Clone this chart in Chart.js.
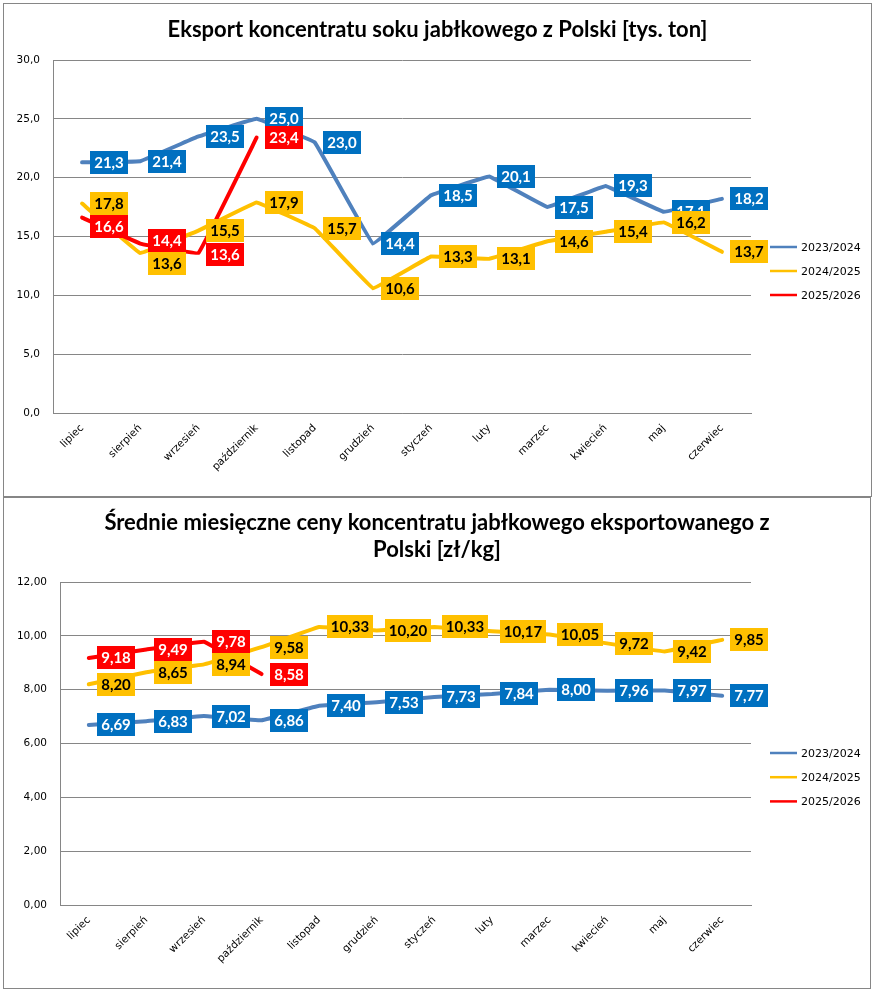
<!DOCTYPE html>
<html><head><meta charset="utf-8">
<script src="https://cdn.jsdelivr.net/npm/chart.js@4"></script>
<style>
html,body{margin:0;padding:0;background:#fff;width:875px;height:992px;overflow:hidden}
.box{position:absolute;border:1px solid #868686;box-sizing:border-box;background:#fff}
#b1{left:3px;top:3px;width:869px;height:494px}
#b2{left:3px;top:497px;width:868px;height:492px}
canvas{display:block}
</style></head>
<body>
<div class="box" id="b1"><canvas id="c1" width="867" height="492"></canvas></div>
<div class="box" id="b2"><canvas id="c2" width="866" height="490"></canvas></div>
<script>
// ---- data ----
const categories = ['lipiec','sierpień','wrzesień','październik','listopad','grudzień','styczeń','luty','marzec','kwiecień','maj','czerwiec'];
const seasons = ['2023/2024','2024/2025','2025/2026'];

const exportTitle = 'Eksport koncentratu soku jabłkowego z Polski [tys. ton]';
const export2023 = [21.3,21.4,23.5,25.0,23.0,14.4,18.5,20.1,17.5,19.3,17.1,18.2];
const export2024 = [17.8,13.6,15.5,17.9,15.7,10.6,13.3,13.1,14.6,15.4,16.2,13.7];
const export2025 = [16.6,14.4,13.6,23.4,null,null,null,null,null,null,null,null];
const exportTicks = [0,5,10,15,20,25,30];

const priceTitle = ['Średnie miesięczne ceny koncentratu jabłkowego eksportowanego z','Polski [zł/kg]'];
const price2023 = [6.69,6.83,7.02,6.86,7.40,7.53,7.73,7.84,8.00,7.96,7.97,7.77];
const price2024 = [8.20,8.65,8.94,9.58,10.33,10.20,10.33,10.17,10.05,9.72,9.42,9.85];
const price2025 = [9.18,9.49,9.78,8.58,null,null,null,null,null,null,null,null];
const priceTicks = [0,2,4,6,8,10,12];

// ---- styles ----
const lineColors = ['#4F81BD','#FFC000','#FF0000'];
const labelBgs = ['#0070C0','#FFC000','#FF0000'];
const labelFg = ['#FFFFFF','#000000','#FFFFFF'];
const tickFont = {family:'DejaVu Sans', size:10.5};

const boxLabels = {
  id:'boxLabels',
  afterDatasetsDraw(chart, args, o){
    const ctx = chart.ctx;
    ctx.save();
    ctx.font = 'bold 15px Lato';
    chart.data.datasets.forEach((ds,i)=>{
      const meta = chart.getDatasetMeta(i);
      meta.data.forEach((pt,j)=>{
        const v = ds.data[j];
        if (v === null || v === undefined) return;
        const txt = v.toFixed(o.decimals).replace('.',',');
        const tw = ctx.measureText(txt).width;
        const w = Math.round(tw + 2*o.padX), h = o.boxH;
        const dy = (o.nudges && o.nudges[i+':'+j]) || 0;
        const bx = Math.round(pt.x + o.offsetX), by = Math.round(pt.y + dy - h/2);
        ctx.fillStyle = labelBgs[i];
        ctx.fillRect(bx, by, w, h);
        ctx.fillStyle = labelFg[i];
        ctx.textAlign = 'center';
        ctx.textBaseline = 'middle';
        ctx.fillText(txt, bx + w/2, by + h/2 + 1);
      });
    });
    ctx.restore();
  }
};

const sideLegend = {
  id:'sideLegend',
  afterDraw(chart, args, o){
    const {ctx, chartArea} = chart;
    ctx.save();
    ctx.font = '11px "DejaVu Sans"';
    ctx.textAlign = 'left';
    ctx.textBaseline = 'middle';
    chart.data.datasets.forEach((ds,i)=>{
      const y = o.top + i*o.spacing;
      const x0 = chartArea.right + 19;
      ctx.strokeStyle = ds.borderColor;
      ctx.lineWidth = 2.5;
      ctx.beginPath(); ctx.moveTo(x0, y); ctx.lineTo(x0+27, y); ctx.stroke();
      ctx.fillStyle = '#000';
      ctx.fillText(ds.label, x0+31, y+1);
    });
    ctx.restore();
  }
};

function makeChart(id, title, titleOpts, series, ticks, decimals, dims, labelOpts, legendOpts){
  const datasets = series.map((d,i)=>({
    label: seasons[i],
    data: d,
    borderColor: lineColors[i],
    backgroundColor: lineColors[i],
    borderWidth: 4,
    pointRadius: 0,
    pointHoverRadius: 0,
    tension: 0.04,
    borderCapStyle: 'round',
    borderJoinStyle: 'round',
    fill: false,
    order: 3 - i
  }));
  return new Chart(document.getElementById(id), {
    type:'line',
    data:{labels: categories, datasets},
    options:{
      responsive:false,
      animation:false,
      events:[],
      layout:{padding:0},
      scales:{
        x:{
          offset:true,
          grid:{display:false, drawTicks:false},
          border:{display:true, color:'#868686', width:1},
          ticks:{autoSkip:false, minRotation:45, maxRotation:45, color:'#000', font:tickFont, padding:9},
          afterFit(s){ s.height = dims.xh; }
        },
        y:{
          min: ticks[0], max: ticks[ticks.length-1],
          afterBuildTicks(s){ s.ticks = ticks.map(v=>({value:v})); },
          grid:{color:'#868686', lineWidth:1, drawTicks:false},
          border:{display:true, color:'#868686', width:1},
          ticks:{color:'#000', font:tickFont, padding:13,
                 callback:(v)=>Number(v).toFixed(decimals).replace('.',',')},
          afterFit(s){ s.width = dims.yw; }
        },
        legendSpace:{
          type:'linear', position:'right', display:true,
          grid:{display:false, drawTicks:false},
          border:{display:false},
          ticks:{display:false},
          afterFit(s){ s.width = dims.right; }
        }
      },
      plugins:{
        legend:{display:false},
        tooltip:{enabled:false},
        title:Object.assign({display:true, text:title, color:'#000'}, titleOpts),
        boxLabels: labelOpts,
        sideLegend: legendOpts
      }
    },
    plugins:[boxLabels, sideLegend]
  });
}

makeChart('c1', exportTitle,
  {padding:{top:12.8, bottom:16.8}, font:{family:'Lato', weight:'bold', size:22, lineHeight:1.2}},
  [export2023, export2024, export2025], exportTicks, 1,
  {right:120, xh:83, yw:49},
  {decimals:1, padX:4, boxH:23, offsetX:8, nudges:{'2:0':9,'1:1':11,'2:1':-3,'2:2':2}},
  {top:243, spacing:24});

makeChart('c2', priceTitle,
  {padding:{top:11.5, bottom:18.5}, font:{family:'Lato', weight:'bold', size:22, lineHeight:27/22}},
  [price2023, price2024, price2025], priceTicks, 2,
  {right:119, xh:83, yw:56},
  {decimals:2, padX:4, boxH:23, offsetX:8, nudges:{}},
  {top:255, spacing:24.2});
</script>
</body></html>
